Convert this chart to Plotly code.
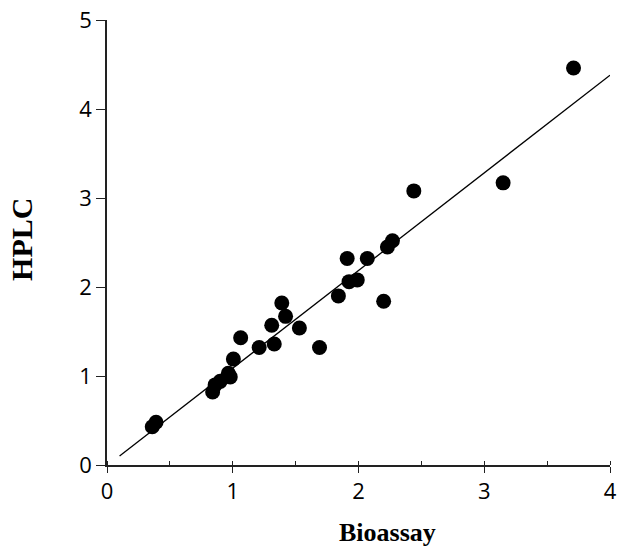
import plotly.graph_objects as go

bioassay = [0.36, 0.39, 0.84, 0.86, 0.90, 0.965, 0.98, 1.005, 1.063, 1.21, 1.31, 1.33,
            1.39, 1.42, 1.53, 1.69, 1.84, 1.91, 1.925, 1.99, 2.07, 2.20, 2.23, 2.27,
            2.44, 3.15, 3.71]
hplc = [0.43, 0.48, 0.82, 0.90, 0.94, 1.03, 0.99, 1.19, 1.43, 1.32, 1.57, 1.36,
        1.82, 1.67, 1.54, 1.32, 1.90, 2.32, 2.06, 2.08, 2.32, 1.84, 2.45, 2.52,
        3.08, 3.17, 4.46]
fit_x = [0.1, 4.0]
fit_y = [0.1, 4.38]

x_ticks = [0, 1, 2, 3, 4]
y_ticks = [0, 1, 2, 3, 4, 5]

fig = go.Figure()
fig.add_trace(go.Scatter(x=fit_x, y=fit_y, mode="lines",
                         line=dict(color="black", width=1.3), showlegend=False))
fig.add_trace(go.Scatter(x=bioassay, y=hplc, mode="markers",
                         marker=dict(color="black", size=15, line=dict(width=0)),
                         showlegend=False, cliponaxis=False))

tickfont = dict(family="Open Sans", size=22, color="black")
fig.update_layout(
    width=618, height=552,
    margin=dict(l=107, r=8, t=20, b=87),
    plot_bgcolor="white", paper_bgcolor="white",
    xaxis=dict(range=[0, 4], tickvals=x_ticks, ticks="outside", ticklen=6,
               tickwidth=1.3, tickcolor="#222", showline=True, linecolor="#222",
               linewidth=1.5, showgrid=False, zeroline=False, tickfont=tickfont,
               automargin=False,
               minor=dict(dtick=0.5, ticks="inside", ticklen=4, tickcolor="#222",
                          tickwidth=1.2, showgrid=False)),
    yaxis=dict(range=[0, 5], tickvals=y_ticks, ticks="outside", ticklen=9,
               tickwidth=1.3, tickcolor="#222", showline=True, linecolor="#222",
               linewidth=1.5, showgrid=False, zeroline=False, tickfont=tickfont,
               automargin=False),
    annotations=[
        dict(text="<b>Bioassay</b>", xref="paper", yref="paper", x=0.558, y=-0.152,
             xanchor="center", yanchor="middle", showarrow=False,
             font=dict(family="Liberation Serif", size=26, color="black")),
        dict(text="<b>HPLC</b>", xref="paper", yref="paper", x=-0.169, y=0.508,
             xanchor="center", yanchor="middle", showarrow=False, textangle=-90,
             font=dict(family="Liberation Serif", size=30, color="black")),
    ],
)
fig.write_html("out.html")
